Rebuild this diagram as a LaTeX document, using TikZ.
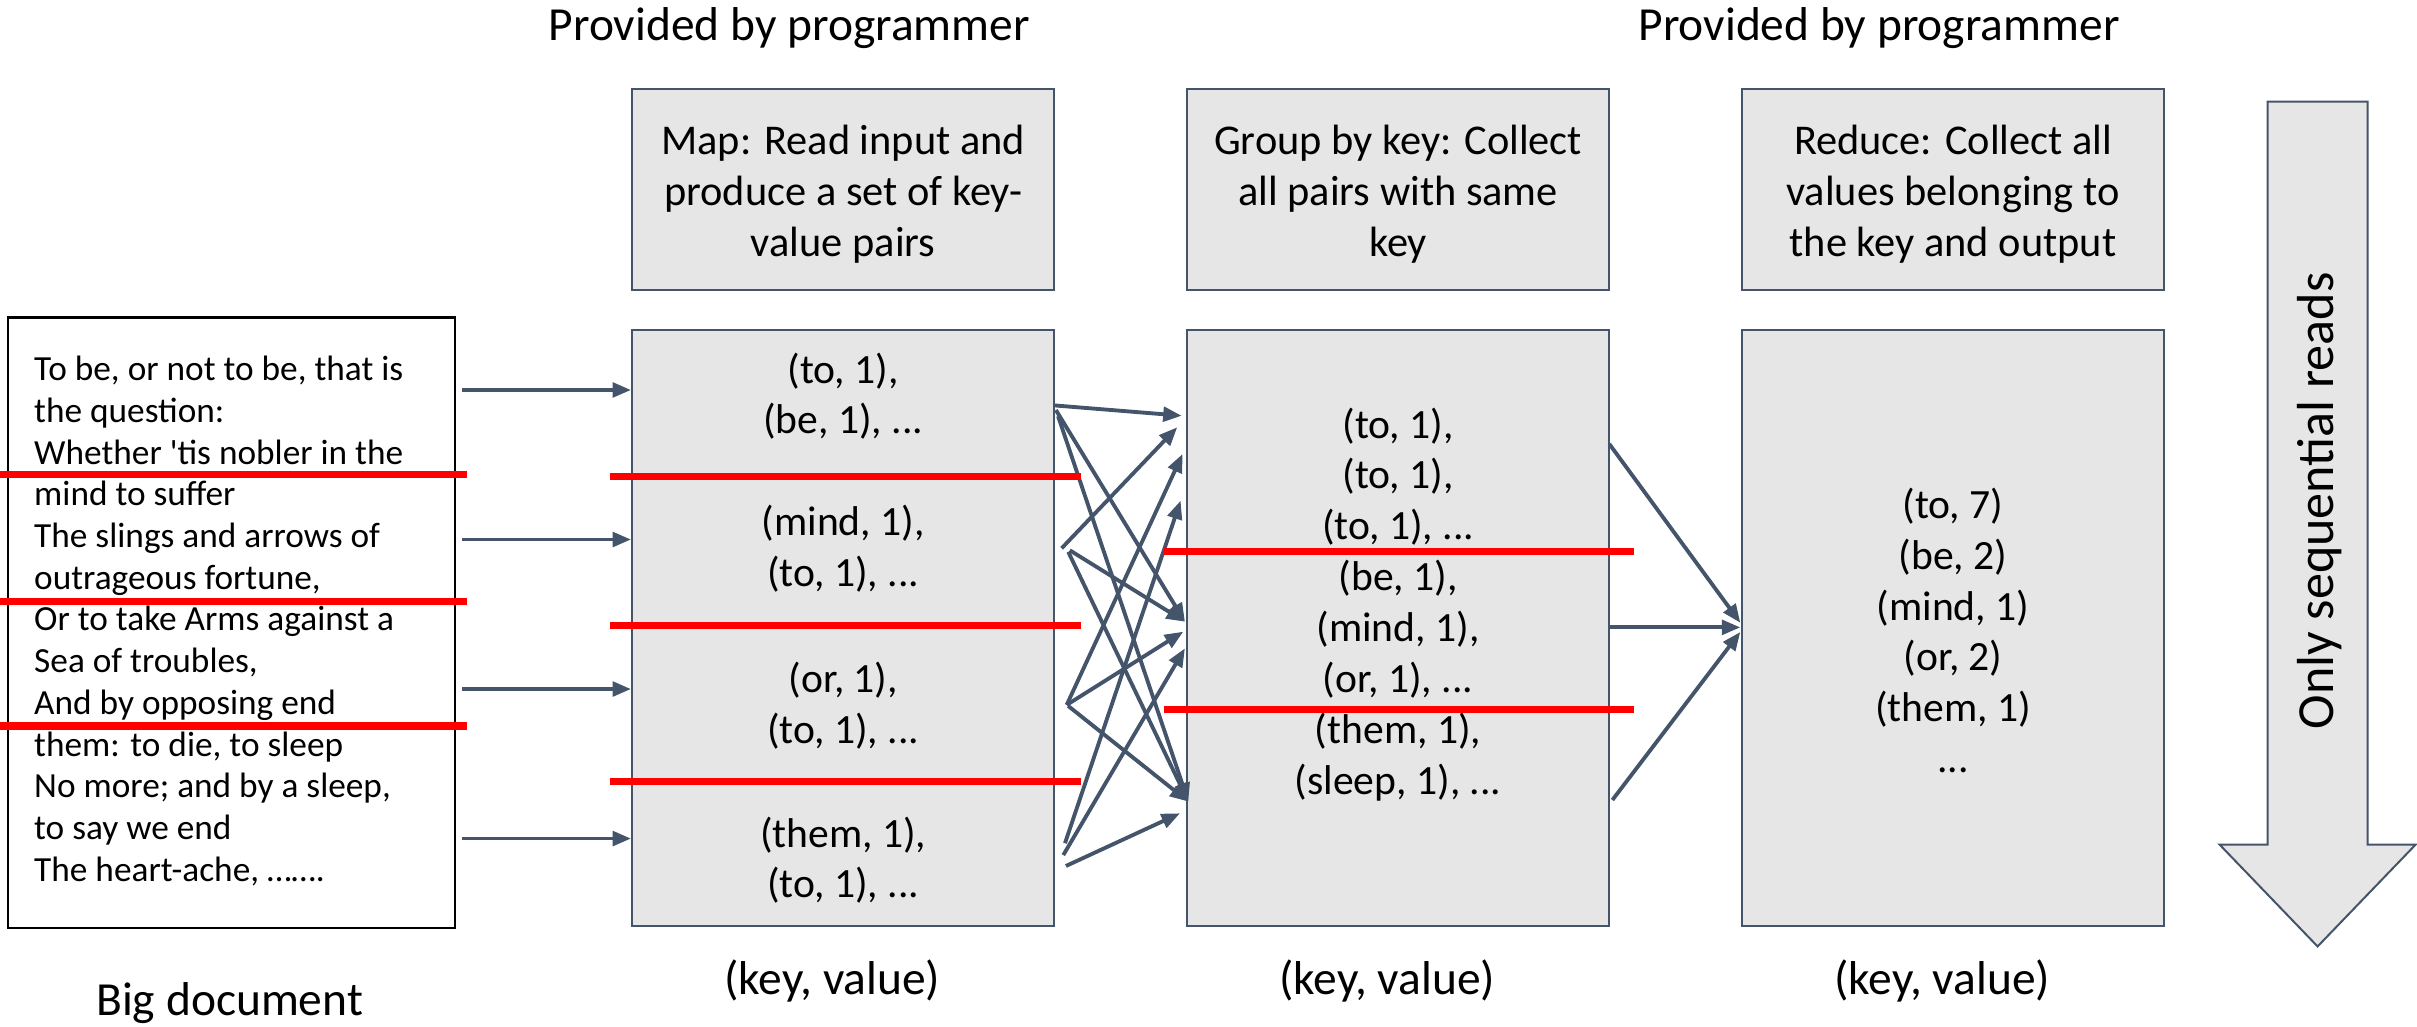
\documentclass[tikz,border=0pt]{standalone}
\usepackage{fontspec}
\setmainfont{Carlito}[Ligatures=TeXOff]
\usetikzlibrary{arrows.meta}

\definecolor{panelfill}{HTML}{E7E6E6}
\definecolor{panelline}{HTML}{44546A}
\definecolor{splitred}{HTML}{FF0000}

\tikzset{
  panel/.style={draw=panelline, fill=panelfill, line width=1.3pt, inner sep=0pt},
  docbox/.style={draw=black, fill=white, line width=1.4pt, inner sep=0pt},
  flow/.style={draw=panelline, line width=2.5pt, -{Triangle[length=12pt,width=9.5pt]}},
  split/.style={draw=splitred, line width=4.6pt},
  doctxt/.style={font=\fontsize{22.9}{27}\selectfont, anchor=base west, inner sep=0pt},
  itemtxt/.style={font=\fontsize{27}{33}\selectfont, align=center, inner sep=0pt},
  headtxt/.style={font=\fontsize{27.5}{33}\selectfont, align=center, inner sep=0pt},
  captxt/.style={font=\fontsize{30.8}{37}\selectfont, anchor=base, inner sep=0pt},
}

\begin{document}
\begin{tikzpicture}[x=1pt,y=-1pt]
\useasboundingbox (0,0) rectangle (1568,666);

% titles above the user-supplied stages
\node[captxt] (prov1) at (512,26) {Provided by programmer};
\node[captxt] (prov2) at (1219,26) {Provided by programmer};

% stage descriptions
\node[panel, minimum width=274pt, minimum height=130pt] (maphead) at (547,123) {};
\node[panel, minimum width=274pt, minimum height=130pt] (grphead) at (907,123) {};
\node[panel, minimum width=274pt, minimum height=130pt] (redhead) at (1267,123) {};
\node[headtxt] (maphtxt) at (547,126) {Map: Read input and\\produce a set of key-\\value pairs};
\node[headtxt] (grphtxt) at (907,126) {Group by key: Collect\\all pairs with same\\key};
\node[headtxt] (redhtxt) at (1267,126) {Reduce: Collect all\\values belonging to\\the key and output};

% input document
\node[docbox, minimum width=290pt, minimum height=396pt] (doc) at (150,404) {};
\foreach \txt [count=\i from 0] in {
  {To be, or not to be, that is},
  {the question:},
  {Whether 'tis nobler in the},
  {mind to suffer},
  {The slings and arrows of},
  {outrageous fortune,},
  {Or to take Arms against a},
  {Sea of troubles,},
  {And by opposing end},
  {them: to die, to sleep},
  {No more; and by a sleep,},
  {to say we end},
  {The heart-ache, …….}}
  \node[doctxt] (docline\i) at (22,247+27.05*\i) {\txt};

% stage data panels
\node[panel, minimum width=274pt, minimum height=387pt] (map) at (547,407.5) {};
\node[panel, minimum width=274pt, minimum height=387pt] (grp) at (907,407.5) {};
\node[panel, minimum width=274pt, minimum height=387pt] (red) at (1267,407.5) {};

\node[itemtxt] (mapa) at (547,257) {(to, 1),\\(be, 1), ...};
\node[itemtxt] (mapb) at (547,356) {(mind, 1),\\(to, 1), ...};
\node[itemtxt] (mapc) at (547,458) {(or, 1),\\(to, 1), ...};
\node[itemtxt] (mapd) at (547,558) {(them, 1),\\(to, 1), ...};

\node[itemtxt] (grptxt) at (907,392)
  {(to, 1),\\(to, 1),\\(to, 1), ...\\(be, 1),\\(mind, 1),\\(or, 1), ...\\(them, 1),\\(sleep, 1), ...};
\node[itemtxt] (redtxt) at (1267,409)
  {(to, 7)\\(be, 2)\\(mind, 1)\\(or, 2)\\(them, 1)\\...};

% captions below
\node[captxt] (kv1) at (540,645) {(key, value)};
\node[captxt] (kv2) at (900,645) {(key, value)};
\node[captxt] (kv3) at (1260,645) {(key, value)};
\node[captxt] (bigdoc) at (149,659) {Big document};

% document chunks into map
\foreach \y [count=\i] in {253,350,447,544} {
  \coordinate (in\i) at (300,\y);
  \draw[flow] (in\i) -- (map.west |- in\i);
}

% shuffle: every map chunk feeds every key group
\coordinate (s1a) at (684,263);   \coordinate (t1a) at (766.6,269.7);
\coordinate (s1b) at (685,266);   \coordinate (t1b) at (768.7,403.3);
\coordinate (s1c) at (686.4,270); \coordinate (t1c) at (770.9,520);
\coordinate (s2a) at (688.7,355.7); \coordinate (t2a) at (763.7,277.2);
\coordinate (s2b) at (694,357);   \coordinate (t2b) at (768.7,403.3);
\coordinate (s2c) at (693,358);   \coordinate (t2c) at (770.9,520);
\coordinate (s3a) at (692,457.3); \coordinate (t3a) at (767.2,294.5);
\coordinate (s3b) at (692,457.3); \coordinate (t3b) at (767.6,409.8);
\coordinate (s3c) at (693,458);   \coordinate (t3c) at (770.9,520);
\coordinate (s4a) at (690.9,547); \coordinate (t4a) at (765.9,324.8);
\coordinate (s4b) at (689.8,554.7); \coordinate (t4b) at (768.7,420.6);
\coordinate (s4c) at (691.5,561.8); \coordinate (t4c) at (765.5,527.6);
\foreach \k in {1,2,3,4} {
  \foreach \g in {a,b,c} {
    \draw[flow] (s\k\g) -- (t\k\g);
  }
}

% key groups into reduce
\coordinate (g1) at (1044,288);
\coordinate (g2) at (1044,407);
\coordinate (g3) at (1046,519);
\coordinate (r1) at (1129,404);
\coordinate (r2) at (1129,407);
\coordinate (r3) at (1129,410);
\draw[flow] (g1) -- (r1);
\draw[flow] (g2) -- (r2);
\draw[flow] (g3) -- (r3);

% chunk boundaries
\draw[split] (0,308) -- (303,308);
\draw[split] (0,390) -- (303,390);
\draw[split] (0,471) -- (303,471);
\draw[split] (396,309) -- (701,309);
\draw[split] (396,406) -- (701,406);
\draw[split] (396,507) -- (701,507);
\draw[split] (755,358) -- (1060,358);
\draw[split] (755,460) -- (1060,460);

% sequential access arrow
\draw[draw=panelline, fill=panelfill, line width=1.3pt, line join=miter]
  (1471,66) -- (1536,66) -- (1536,548) -- (1567,548) -- (1503.5,614)
  -- (1440,548) -- (1471,548) -- cycle;
\node[font=\fontsize{33.8}{40}\selectfont, rotate=90, inner sep=0pt] (seqlbl) at (1505,325)
  {Only sequential reads};
\end{tikzpicture}
\end{document}
